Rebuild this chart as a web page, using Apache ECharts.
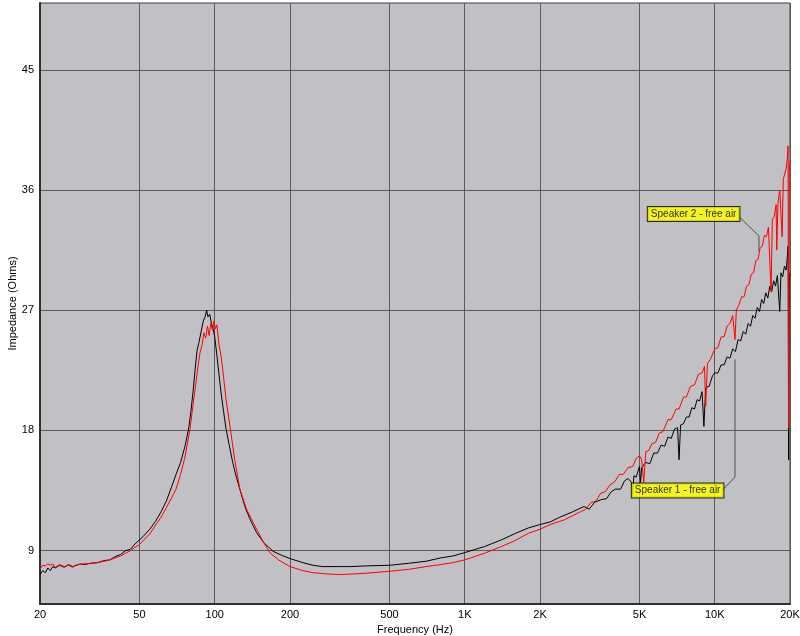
<!DOCTYPE html>
<html>
<head>
<meta charset="utf-8">
<script src="https://cdn.jsdelivr.net/npm/echarts@6/dist/echarts.min.js"></script>
<style>html,body{margin:0;padding:0;background:#fff}#c{width:800px;height:636px}</style>
</head>
<body>
<div id="c"></div>
<script>
// ---- data ----
const xTicks = [20, 50, 100, 200, 500, 1000, 2000, 5000, 10000, 20000];
const xTickLabels = ['20', '50', '100', '200', '500', '1K', '2K', '5K', '10K', '20K'];
const yTicks = [9, 18, 27, 36, 45];

const speaker1Freq = [20,20.5,21,21.5,22,22.5,23,24,25,26,27,28,29,30,32,34,36,38,40,42,44,46,48,50,52,55,58,61,64,67,70,73,76,78.6,80.5,82,83.5,85,86.5,88,90,91.5,92.8,94,95.5,97,98.5,100,102,104,106,108.5,111,114,118,122,126,132,138,147,157,171,185,200,225,247,270,308,350,400,500,600,700,800,900,1000,1200,1400,1600,1800,2000,2200,2400,2700,
  3000,3150,3300,3500,3700,3850,4000,4200,4350,4500,4650,4700,4750,4850,5000,5050,5100,5300,5500,5700,5900,6100,6300,6500,6700,6900,7100,7200,7300,7500,7700,7900,8100,8300,8500,8700,8900,9050,9200,9500,9800,10000,10300,10600,10900,11200,11500,11800,12100,12400,12700,13000,13300,13600,13900,14200,14500,14800,15100,15400,15700,16000,16300,16600,16900,17200,17500,17800,18200,18400,18700,19000,19300,19500,19650,19750,19850,20000];
const speaker1Imp  = [7.2,7.5,7.35,7.7,7.5,7.8,7.7,7.9,7.75,7.95,7.8,7.9,8.0,7.95,8.05,8.1,8.25,8.3,8.55,8.7,9.0,9.1,9.5,9.8,10.1,10.6,11.2,11.9,12.7,13.7,14.7,15.6,16.8,18.1,19.6,21.0,22.6,24.0,24.6,25.3,26.2,26.5,27.0,26.5,26.7,26.0,25.6,25.0,23.6,22.2,20.8,19.4,18.1,17.0,15.6,14.5,13.6,12.3,11.4,10.35,9.6,8.95,8.65,8.4,8.1,7.9,7.8,7.8,7.8,7.85,7.9,8.05,8.2,8.45,8.6,8.85,9.3,9.8,10.3,10.7,10.95,11.15,11.5,11.9,
  12.3,12.1,12.6,12.8,12.9,13.4,13.6,13.6,14.2,14.4,14.1,13.2,14.6,14.5,15.3,14.1,15.2,15.6,15.5,16.3,16.3,16.9,16.8,17.5,17.4,18.1,18.2,15.8,18.4,18.5,19.0,19.0,19.7,19.6,20.3,20.2,20.9,18.3,21.2,21.3,22.1,22.3,22.3,22.9,22.9,23.5,23.4,24.1,23.9,24.8,24.7,25.4,25.2,26.0,25.8,26.6,26.4,27.2,26.9,27.8,27.5,28.3,27.9,28.8,28.4,29.2,28.8,29.6,26.9,29.8,29.5,30.3,30.0,30.9,31.8,15.8,29.0,29.8];

const speaker2Freq = [20,20.5,21,21.5,22,22.5,23,24,25,26,27,28,30,32,34,36,38,40,42,44,46,48,50,52,55,58,61,64,67,70,73,76,79.6,82,84,86,87.4,89,90.5,92,93.5,95,96.5,98,99.3,100.5,102,104,105.5,107.6,111,115.5,120,126,134,147,157,166,180,200,225,247,280,318,400,500,600,700,800,900,1000,1200,1400,1570,1800,2000,2200,2500,
  2900,3050,3200,3350,3500,3650,3800,4000,4150,4300,4500,4700,4850,5000,5100,5200,5300,5450,5600,5800,6000,6200,6500,6700,7000,7200,7500,7700,8000,8300,8600,8900,9100,9200,9350,9600,10000,10300,10600,10900,11200,11500,11800,12050,12200,12500,12800,13100,13400,13700,14000,14300,14600,14900,15200,15500,15800,16100,16400,16800,17000,17300,17600,17700,17900,18200,18500,18600,18800,19100,19300,19500,19650,19750,19850,20000];
const speaker2Imp  = [7.6,7.9,7.85,8.0,7.9,8.0,7.75,7.95,7.8,7.9,7.75,7.95,8.0,8.05,8.1,8.2,8.3,8.45,8.6,8.8,9.0,9.25,9.45,9.8,10.25,10.9,11.5,12.2,12.9,13.6,14.7,16.0,18.1,20.0,21.5,23.0,23.85,24.4,25.3,24.9,25.8,25.1,26.0,25.5,26.2,25.6,25.9,24.4,23.8,22.6,20.3,18.1,15.9,13.6,12.1,10.6,9.6,8.85,8.3,7.8,7.5,7.35,7.25,7.2,7.3,7.45,7.6,7.8,7.95,8.1,8.3,8.8,9.3,9.7,10.3,10.6,10.95,11.3,
  11.9,12.1,12.6,12.7,13.3,13.4,13.9,14.2,14.7,14.7,15.2,15.3,15.9,16.1,15.8,14.1,16.4,16.5,17.0,17.1,17.8,17.9,18.8,18.8,19.6,19.6,20.5,20.5,21.3,21.4,22.2,22.3,22.8,19.8,23.0,23.3,24.1,24.2,25.0,25.0,25.8,26.0,26.6,24.8,27.0,27.4,28.0,28.0,28.8,28.9,29.7,29.8,30.7,30.8,31.7,31.8,32.6,32.5,33.2,28.35,33.8,34.0,34.9,31.5,35.0,36.0,36.1,32.5,36.8,36.9,37.6,38.3,39.3,18.2,37.5,38.2];

const label1 = 'Speaker 1 - free air';
const label2 = 'Speaker 2 - free air';

const zip = (a, b) => a.map((v, i) => [v, b[i]]);

const chart = echarts.init(document.getElementById('c'), null, { renderer: 'canvas' });
const fontFamily = 'Liberation Sans, Arial, sans-serif';

const boxLabel = {
  show: true, position: 'right', distance: 0,
  backgroundColor: '#FFFF00', borderColor: '#000', borderWidth: 1,
  padding: [2, 3, 1, 3], fontSize: 10, lineHeight: 11, color: '#000', fontFamily: fontFamily
};

chart.setOption({
  animation: false,
  backgroundColor: '#fff',
  grid: {
    left: 40, right: 10, top: 3, bottom: 32,
    outerBoundsMode: 'none', containLabel: false,
    show: true, backgroundColor: '#C1C0C4', borderColor: '#404040', borderWidth: 1
  },
  xAxis: {
    type: 'log', logBase: 10, min: 20, max: 20000,
    name: 'Frequency (Hz)', nameLocation: 'middle', nameGap: 18,
    nameTextStyle: { fontSize: 11, color: '#000', fontFamily: fontFamily },
    axisLine: { show: true, lineStyle: { color: '#303030', width: 2 } },
    axisTick: { show: false, customValues: xTicks },
    axisLabel: {
      customValues: xTicks, fontSize: 11, color: '#000', margin: 5, fontFamily: fontFamily,
      formatter: v => { const i = xTicks.findIndex(t => Math.abs(t - v) / t < 1e-6); return i >= 0 ? xTickLabels[i] : ''; }
    },
    splitLine: { show: true, lineStyle: { color: '#5A5A5A', width: 1 } },
    minorSplitLine: { show: false }
  },
  yAxis: {
    type: 'value', min: 5, max: 50,
    name: 'Impedance (Ohms)', nameLocation: 'middle', nameGap: 22, nameRotate: 90,
    nameMoveOverlap: false,
    nameTextStyle: { fontSize: 11, color: '#000', fontFamily: fontFamily },
    axisLine: { show: true, lineStyle: { color: '#303030', width: 2 } },
    axisTick: { show: false, customValues: yTicks },
    axisLabel: { customValues: yTicks, fontSize: 11, color: '#000', margin: 6, fontFamily: fontFamily },
    splitLine: { show: true, lineStyle: { color: '#5A5A5A', width: 1 } }
  },
  series: [
    {
      name: label1, type: 'line', data: zip(speaker1Freq, speaker1Imp),
      showSymbol: false, symbol: 'none', lineStyle: { color: '#000', width: 1 }, z: 3
    },
    {
      name: label2, type: 'line', data: zip(speaker2Freq, speaker2Imp),
      showSymbol: false, symbol: 'none', lineStyle: { color: '#FF0000', width: 1 }, z: 4
    },
    {
      type: 'line', data: [[12500, 34.0], [15030, 32.55], [15030, 31.4]],
      symbol: 'none', lineStyle: { color: '#505050', width: 1 }, z: 5, silent: true
    },
    {
      type: 'line', data: [[10700, 13.5], [12050, 14.5], [12050, 23.3]],
      symbol: 'none', lineStyle: { color: '#505050', width: 1 }, z: 5, silent: true
    },
    {
      type: 'scatter', data: [[5400, 34.2]], symbolSize: 0, z: 6, silent: true,
      label: Object.assign({ formatter: label2 }, boxLabel)
    },
    {
      type: 'scatter', data: [[4660, 13.5]], symbolSize: 0, z: 6, silent: true,
      label: Object.assign({ formatter: label1 }, boxLabel)
    }
  ]
});
</script>
</body>
</html>
